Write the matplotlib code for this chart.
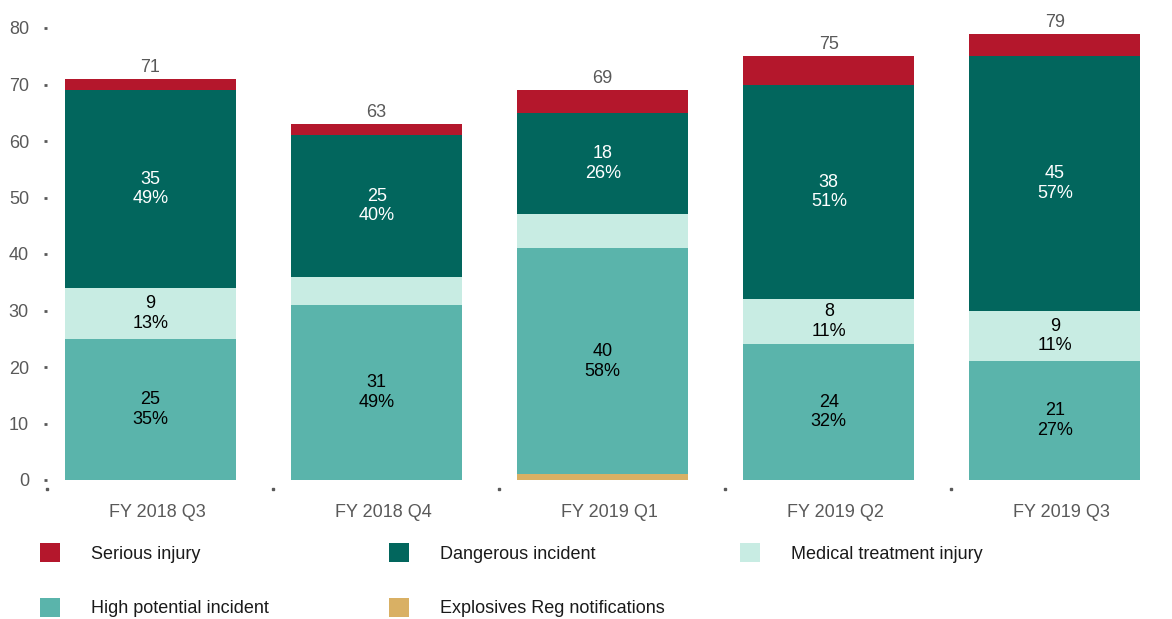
import matplotlib.pyplot as plt
import numpy as np

plt.rcParams['font.family'] = ['Liberation Sans', 'DejaVu Sans']

quarters = ['FY 2018 Q3', 'FY 2018 Q4', 'FY 2019 Q1', 'FY 2019 Q2', 'FY 2019 Q3']
explosives = [0, 0, 1, 0, 0]
high_potential = [25, 31, 40, 24, 21]
medical = [9, 5, 6, 8, 9]
dangerous = [35, 25, 18, 38, 45]
serious = [2, 2, 4, 5, 4]

series = [
    ('Explosives Reg notifications', explosives, '#D9B064', None),
    ('High potential incident', high_potential, '#5AB4AB', 'black'),
    ('Medical treatment injury', medical, '#C8ECE3', 'black'),
    ('Dangerous incident', dangerous, '#02665D', 'white'),
    ('Serious injury', serious, '#B4172C', None),
]

grey = '#595959'
fig = plt.figure(figsize=(11.72, 6.19), dpi=100)
W, H = 1172, 619
ax = fig.add_axes([47 / W, (H - 480) / H, 4.98 * 226 / W, 452 / H])

x = np.arange(len(quarters))
totals = np.sum([s[1] for s in series], axis=0)
bottom = np.zeros(len(quarters))
handles = {}
for name, vals, col, tcol in series:
    vals = np.array(vals, dtype=float)
    b = ax.bar(x, vals, 0.757, bottom=bottom, color=col, linewidth=0)
    handles[name] = b
    if tcol is not None:
        for i, v in enumerate(vals):
            if v >= 8:
                pct = round(100 * v / totals[i])
                ax.text(x[i], bottom[i] + v / 2, f'{int(v)}\n{pct}%', ha='center', va='center',
                        color=tcol, fontsize=13, linespacing=1.2)
    bottom += vals

for i, t in enumerate(totals):
    ax.annotate(str(int(t)), (x[i], t), xytext=(0, 2), textcoords='offset points',
                ha='center', va='bottom', color=grey, fontsize=13)

ax.set_xlim(-0.458, 4.52)
ax.set_ylim(0, 80)
ax.set_yticks(range(0, 81, 10))
for sp in ax.spines.values():
    sp.set_visible(False)
ax.tick_params(axis='y', length=2, width=2, color=grey, labelcolor=grey, labelsize=13, pad=11)
ax.set_xticks(x + 0.03)
ax.set_xticklabels(quarters)
ax.tick_params(axis='x', length=0, labelcolor=grey, labelsize=13, pad=17)

# small dots between categories on the x axis
bounds = np.arange(len(quarters)) - 0.458
ax.plot(bounds, [-9 / 452] * len(bounds), 's', ms=2, color=grey,
        transform=ax.get_xaxis_transform(), clip_on=False)

# legend in three fixed columns
cols = [
    (40, ['Serious injury', 'High potential incident']),
    (389, ['Dangerous incident', 'Explosives Reg notifications']),
    (740, ['Medical treatment injury']),
]
for xpix, names in cols:
    leg = fig.legend([handles[n] for n in names], names, loc='upper left',
                     bbox_to_anchor=(xpix / W, (H - 543) / H), frameon=False,
                     fontsize=13, handlelength=1.1, handleheight=1.25,
                     handletextpad=1.75, labelspacing=1.95, borderpad=0, borderaxespad=0)
    for t in leg.get_texts():
        t.set_color('#1a1a1a')

fig.savefig('out.png', dpi=100)
